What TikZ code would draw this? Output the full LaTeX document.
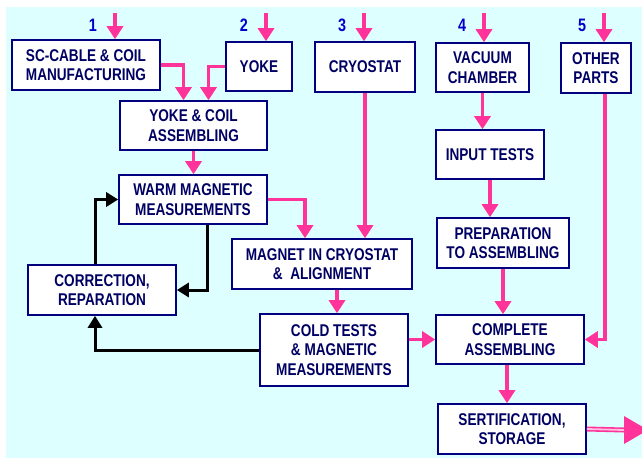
\documentclass[tikz,border=0pt]{standalone}
\usepackage{fontspec}
\setmainfont{Liberation Sans}[FakeStretch=0.8]
\usetikzlibrary{positioning, arrows.meta, calc}
\definecolor{bgcyan}{RGB}{221,255,255}
\definecolor{pk}{RGB}{255,51,153}
\definecolor{pklight}{RGB}{255,190,225}
\definecolor{navy}{RGB}{0,0,128}
\definecolor{navytext}{RGB}{0,0,100}
\definecolor{numblue}{RGB}{0,0,204}

\tikzset{
  stage/.style={rectangle, draw=navy, line width=1.6pt, fill=white, align=center,
    text=navytext, font=\fontsize{17}{19.5}\selectfont\bfseries, inner sep=2pt},
  num/.style={text=numblue, font=\fontsize{18}{20}\selectfont\bfseries},
  flow/.style={draw=pk, line width=3.4pt, -{Triangle[width=16pt,length=13pt]}},
  back/.style={draw=black, line width=3pt, -{Triangle[width=14pt,length=12pt]}}
}

\begin{document}
\begin{tikzpicture}[x=1pt, y=-1pt]
    \useasboundingbox (0,0) rectangle (642,458);
    \fill[white] (0,0) rectangle (642,458);
    \fill[bgcyan] (6,7) rectangle (642,458);

    % first row: incoming parts
    \node (sc) [stage, minimum width=148pt, minimum height=50pt] at (86,65) {SC-CABLE \& COIL\\MANUFACTURING};
    \node (yoke) [stage, minimum width=66pt, minimum height=49pt] at (259,66.5) {YOKE};
    \node (cryo) [stage, minimum width=100pt, minimum height=50pt] at (365,67) {CRYOSTAT};
    \node (vac) [stage, minimum width=93pt, minimum height=49pt] at (482.5,67.5) {VACUUM\\CHAMBER};
    \node (other) [stage, minimum width=70pt, minimum height=50pt] at (596,68) {OTHER\\PARTS};

    % magnet line
    \node (ycoil) [stage, minimum width=147pt, minimum height=49pt] at (193.5,125.5) {YOKE \& COIL\\ASSEMBLING};
    \node (warm) [stage, minimum width=148pt, minimum height=49pt] at (193,199.5) {WARM MAGNETIC\\MEASUREMENTS};
    \node (corr) [stage, minimum width=148pt, minimum height=50pt] at (102,290) {CORRECTION,\\REPARATION};
    \node (magnet) [stage, minimum width=180pt, minimum height=50pt] at (322,264) {MAGNET IN CRYOSTAT\\\&\ \ ALIGNMENT};
    \node (cold) [stage, minimum width=148pt, minimum height=72pt] at (334,350) {COLD TESTS\\\& MAGNETIC\\MEASUREMENTS};

    % chamber line
    \node (input) [stage, minimum width=108pt, minimum height=49pt] at (490,154.5) {INPUT TESTS};
    \node (prep) [stage, minimum width=132pt, minimum height=50pt] at (503,243) {PREPARATION\\TO ASSEMBLING};
    \node (compl) [stage, minimum width=148pt, minimum height=49pt] at (510,339.5) {COMPLETE\\ASSEMBLING};
    \node (sert) [stage, minimum width=148pt, minimum height=50pt] at (512,429) {SERTIFICATION,\\STORAGE};

    % inputs 1..5
    \foreach \n/\x/\b in {1/115/sc, 2/266/yoke, 3/364/cryo, 4/484/vac, 5/604/other} {
        \coordinate (in\n) at (\x,13);
        \node (lbl\n) [num] at (\x-22,25) {\n};
        \draw[flow] (in\n) -- (in\n |- \b.north);
    }

    \draw[flow] (sc.east) -| ([xshift=-10pt]ycoil.north);
    \draw[flow] (yoke.west) -| ([xshift=15pt]ycoil.north);
    \draw[flow] (ycoil.south) -- (ycoil.south |- warm.north);
    \draw[flow] (warm.east) -| ([xshift=-17pt]magnet.north);
    \draw[flow] (cryo.south) -- (cryo.south |- magnet.north);
    \draw[flow] ([xshift=15pt]magnet.south) -- ([xshift=15pt]magnet.south |- cold.north);
    \draw[flow] (cold.east |- compl.west) -- (compl.west);
    \draw[flow] (vac.south) -- (vac.south |- input.north);
    \draw[flow] (input.south) -- (input.south |- prep.north);
    \draw[flow] (prep.south) -- (prep.south |- compl.north);
    \draw[flow] ([xshift=9pt]other.south) |- (compl.east);
    \draw[flow] ([xshift=-3pt]compl.south) -- ([xshift=-3pt]compl.south |- sert.north);

    % feedback loop
    \draw[back] ([xshift=14pt]warm.south) |- (corr.east);
    \draw[back] ([xshift=-7pt]corr.north) |- (warm.west);
    \draw[back] (cold.west) -| ([xshift=-7pt]corr.south);

    % output
    \coordinate (exit) at (624,430);
    \draw[pk, line width=1.6pt, double=pklight, double distance=1.8pt] (sert.east) -- (exit);
    \fill[pk] (exit) ++(0,-14) -- ++(24,14) -- ++(-24,14) -- cycle;
\end{tikzpicture}
\end{document}
